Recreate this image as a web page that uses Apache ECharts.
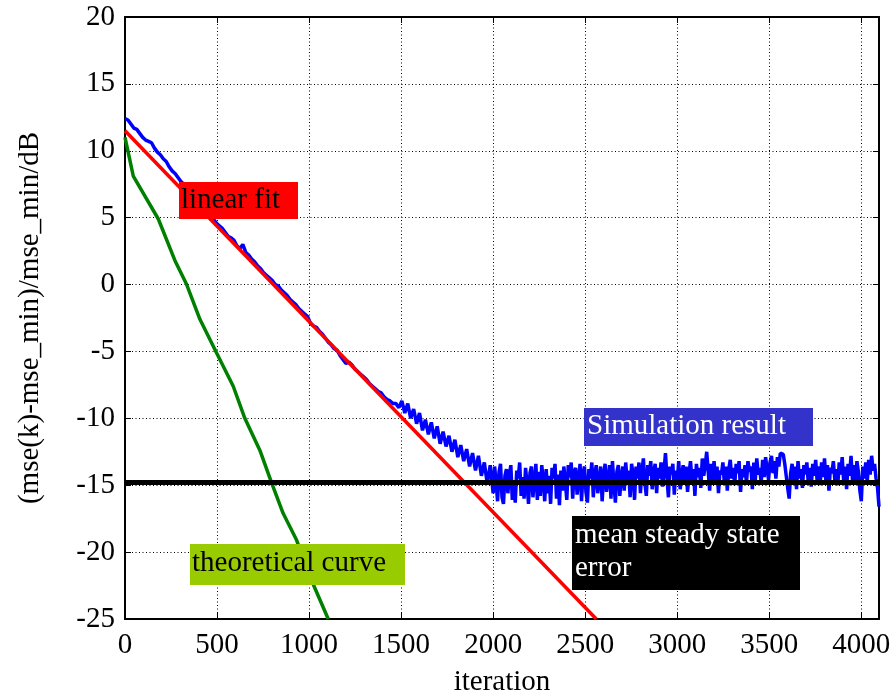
<!DOCTYPE html>
<html>
<head>
<meta charset="utf-8">
<script src="https://cdn.jsdelivr.net/npm/echarts@6/dist/echarts.min.js"></script>
<style>html,body{margin:0;padding:0;background:#fff}#c{width:894px;height:694px}</style>
</head>
<body>
<div id="c"></div>
<script>
// ---- data ----
const xTicks = [0, 500, 1000, 1500, 2000, 2500, 3000, 3500, 4000];
const yTicks = [-25, -20, -15, -10, -5, 0, 5, 10, 15, 20];
// simulation, transient part: samples every 16 iterations from 0 to 2000
const simEarlyStep = 16;
const simEarly = [
 12.4,12.3,12.0,11.7,11.6,11.3,11.0,10.8,10.7,10.6,
 10.2,9.9,9.7,9.4,9.2,8.8,8.5,8.3,8.0,7.7,
 7.5,7.2,7.0,6.8,6.4,6.2,6.0,5.7,5.4,5.1,
 4.9,4.6,4.4,4.2,3.9,3.6,3.5,3.3,2.9,2.7,
 3.0,2.4,2.2,1.9,1.7,1.4,1.2,0.9,0.7,0.5,
 0.3,0.0,-0.1,-0.4,-0.6,-0.8,-1.1,-1.3,-1.5,-1.8,
 -2.0,-2.2,-2.4,-2.9,-3.1,-3.2,-3.5,-3.7,-4.0,-4.3,
 -4.5,-4.8,-4.9,-5.3,-5.6,-5.9,-5.8,-6.0,-6.3,-6.5,
 -6.7,-6.9,-7.1,-7.4,-7.6,-7.8,-8.0,-8.1,-8.4,-8.6,
 -8.7,-8.9,-8.9,-9.2,-8.7,-9.6,-8.9,-10.0,-9.3,-10.4,
 -9.6,-10.9,-10.1,-11.2,-10.3,-11.5,-10.6,-11.9,-11.0,-12.1,
 -11.3,-12.5,-11.6,-12.9,-12.0,-13.2,-12.3,-13.6,-12.6,-13.9,
 -12.8,-14.3,-13.3,-14.9,-13.5,-15.6
];
// simulation, steady-state part: samples every 8 iterations from 2008 to 4096
const simLateStart = 2008;
const simLateStep = 8;
const simLate = [
 -13.6,-14.8,-16.2,-14.0,-13.4,-15.9,-16.4,-14.3,-13.8,-15.6,
 -14.2,-13.5,-16.1,-14.8,-16.3,-13.9,-14.5,-13.3,-15.8,-14.4,
 -16.0,-13.7,-14.9,-16.4,-14.1,-13.6,-15.9,-14.7,-13.4,-16.1,
 -14.0,-15.8,-13.5,-14.6,-16.2,-13.8,-15.6,-14.3,-16.4,-13.7,
 -14.5,-13.4,-16.0,-14.2,-16.5,-13.9,-15.4,-13.6,-14.8,-16.1,
 -13.5,-14.4,-13.3,-16.0,-14.0,-13.7,-15.7,-14.6,-13.4,-16.2,
 -14.1,-13.6,-15.5,-16.3,-13.8,-14.5,-13.3,-15.9,-14.2,-13.5,
 -15.6,-14.7,-13.6,-16.2,-14.3,-13.4,-15.5,-14.6,-13.5,-16.0,
 -13.2,-14.9,-16.3,-14.0,-13.5,-15.8,-14.4,-13.6,-15.4,-13.3,
 -14.7,-13.9,-15.9,-13.4,-14.2,-16.1,-13.6,-14.5,-13.3,-15.6,
 -14.0,-13.0,-14.8,-15.8,-13.5,-14.3,-13.2,-15.3,-14.1,-13.4,
 -15.6,-13.7,-14.5,-13.3,-15.1,-14.0,-12.6,-14.4,-15.9,-13.6,
 -14.2,-13.4,-15.7,-13.9,-14.7,-13.2,-15.3,-14.3,-13.5,-14.9,
 -13.6,-15.5,-14.1,-13.2,-14.6,-13.8,-15.8,-13.4,-14.4,-13.7,
 -15.2,-13.0,-14.3,-13.5,-12.5,-13.9,-15.4,-13.4,-14.6,-13.2,
 -14.8,-13.6,-15.6,-13.9,-14.2,-13.3,-14.9,-13.6,-15.4,-13.8,
 -13.1,-14.5,-13.7,-15.0,-13.4,-14.1,-13.2,-15.5,-13.8,-14.4,
 -13.5,-14.9,-13.2,-14.0,-13.6,-15.3,-13.3,-14.6,-13.0,-14.2,
 -13.7,-14.8,-13.1,-14.4,-12.9,-13.8,-14.6,-13.3,-12.8,-14.1,
 -13.2,-14.5,-12.9,-13.6,-12.6,-12.5,-12.7,-13.4,-14.3,-15.2,
 -16.0,-14.1,-13.4,-14.8,-13.6,-15.3,-13.2,-14.5,-13.8,-15.2,
 -13.5,-14.2,-13.3,-14.9,-13.7,-15.1,-13.4,-14.3,-13.1,-14.7,
 -13.6,-15.0,-13.3,-14.4,-13.0,-14.8,-13.5,-15.4,-13.7,-14.1,
 -13.2,-14.6,-13.8,-15.0,-13.3,-14.2,-12.9,-14.7,-13.6,-15.3,
 -13.4,-14.3,-12.8,-14.6,-13.5,-14.9,-13.2,-14.0,-15.4,-16.2,
 -13.6,-14.5,-13.3,-14.8,-13.1,-14.2,-12.8,-13.9,-13.4,-14.5,
 -15.2,-16.6
];
const linearFitIter = [0, 2560];
const linearFitVal = [11.5, -25.0];
const theoryIter = [0, 45, 181, 271, 335, 407, 497, 588, 651, 733, 796, 859, 932, 1013, 1104];
const theoryVal = [11.0, 8.1, 4.9, 1.8, 0.0, -2.6, -5.1, -7.6, -10.0, -12.4, -14.8, -17.1, -19.1, -22.1, -25.0];
const meanErrIter = [0, 4096];
const meanErrVal = [-14.8, -14.8];
const xMax = 4096;

// ---- build series ----
const simData = simEarly.map((v, k) => [k * simEarlyStep, v])
  .concat(simLate.map((v, k) => [simLateStart + k * simLateStep, v]));
const zip = (a, b) => a.map((x, i) => [x, b[i]]);

const FONT = '"Liberation Serif", "Times New Roman", serif';
const FS = 29;

const chart = echarts.init(document.getElementById('c'), null, {renderer: 'canvas'});
const frameAxis = {
  axisLine: {show: true, onZero: false, lineStyle: {color: '#000', width: 2}},
  axisTick: {show: true, inside: true, length: 6, lineStyle: {color: '#000', width: 1}},
  axisLabel: {show: false},
  splitLine: {show: false}
};
const gridDots = {show: true, lineStyle: {color: '#000', type: [1, 2.5], width: 1}};
chart.setOption({
  animation: false,
  backgroundColor: '#fff',
  textStyle: {fontFamily: FONT},
  grid: {left: 125, right: 15, top: 17, bottom: 75, outerBoundsMode: 'none', containLabel: false},
  xAxis: [{
    type: 'value', min: 0, max: xMax, interval: 500,
    name: 'iteration', nameLocation: 'middle', nameGap: 49,
    nameTextStyle: {fontFamily: FONT, fontSize: FS, color: '#000'},
    axisLine: {onZero: false, lineStyle: {color: '#000', width: 2}},
    axisTick: {inside: true, length: 6, lineStyle: {color: '#000'}},
    axisLabel: {fontFamily: FONT, fontSize: FS, color: '#000', margin: 12, showMaxLabel: false,
      formatter: v => xTicks.includes(v) ? String(v) : ''},
    splitLine: gridDots
  }, Object.assign({type: 'value', position: 'top', min: 0, max: xMax, interval: 500}, frameAxis)],
  yAxis: [{
    type: 'value', min: -25, max: 20, interval: 5,
    name: '(mse(k)-mse_min)/mse_min/dB', nameLocation: 'middle', nameGap: 80, nameRotate: 90,
    nameTextStyle: {fontFamily: FONT, fontSize: FS, color: '#000'},
    axisLine: {onZero: false, lineStyle: {color: '#000', width: 2}},
    axisTick: {inside: true, length: 6, lineStyle: {color: '#000'}},
    axisLabel: {fontFamily: FONT, fontSize: FS, color: '#000', margin: 10,
      formatter: v => yTicks.includes(v) ? String(v) : ''},
    splitLine: gridDots
  }, Object.assign({type: 'value', position: 'right', min: -25, max: 20, interval: 5}, frameAxis)],
  series: [
    {type: 'line', name: 'Simulation result', data: simData, showSymbol: false, clip: true,
     lineStyle: {color: '#0000ff', width: 3.5}, z: 2},
    {type: 'line', name: 'linear fit', data: zip(linearFitIter, linearFitVal), showSymbol: false, clip: true,
     lineStyle: {color: '#ff0000', width: 3.5}, z: 3},
    {type: 'line', name: 'theoretical curve', data: zip(theoryIter, theoryVal), showSymbol: false, clip: true,
     lineStyle: {color: '#008000', width: 3.5}, z: 4},
    {type: 'line', name: 'mean steady state error', data: zip(meanErrIter, meanErrVal), showSymbol: false, clip: false,
     lineStyle: {color: '#000', width: 5}, z: 5}
  ],
  graphic: [
    {type: 'rect', left: 179, top: 182, shape: {width: 119, height: 37}, style: {fill: '#ff0000'}, z: 10},
    {type: 'text', left: 181, top: 186, style: {text: 'linear fit', fill: '#000', font: FS + 'px ' + FONT}, z: 11},
    {type: 'rect', left: 584, top: 408, shape: {width: 229, height: 38}, style: {fill: '#3333cc'}, z: 10},
    {type: 'text', left: 587, top: 412, style: {text: 'Simulation result', fill: '#fff', font: FS + 'px ' + FONT}, z: 11},
    {type: 'rect', left: 572, top: 516, shape: {width: 228, height: 74}, style: {fill: '#000'}, z: 10},
    {type: 'text', left: 575, top: 519, style: {text: 'mean steady state\nerror', fill: '#fff', lineHeight: 33, font: FS + 'px ' + FONT}, z: 11},
    {type: 'rect', left: 190, top: 544, shape: {width: 215, height: 41}, style: {fill: '#99cc00'}, z: 10},
    {type: 'text', left: 192, top: 549, style: {text: 'theoretical curve', fill: '#000', font: FS + 'px ' + FONT}, z: 11}
  ]
});
</script>
</body>
</html>
